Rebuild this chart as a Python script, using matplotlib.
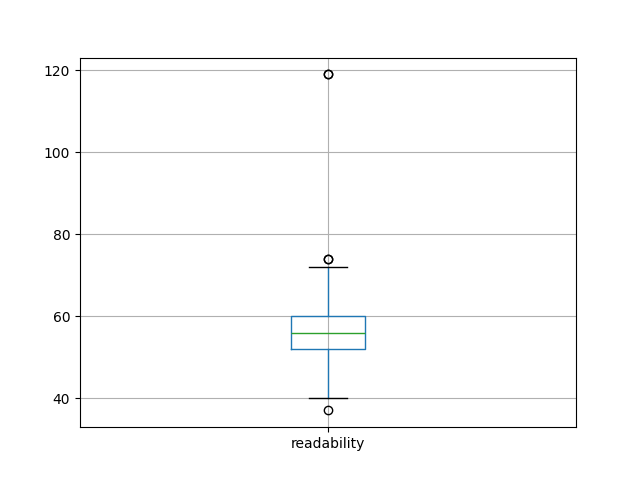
import matplotlib
matplotlib.use("Agg")
import matplotlib.pyplot as plt

# box statistics
label = "readability"
q1, median, q3 = 52, 56, 60
whislo, whishi = 40, 72
# 74 and 119 appear more than once (heavier circles)
fliers = [37, 74, 74, 119, 119]

stats = [{
    "label": label,
    "q1": q1, "med": median, "q3": q3,
    "whislo": whislo, "whishi": whishi,
    "fliers": fliers,
}]

fig, ax = plt.subplots(figsize=(6.4, 4.8), dpi=100)
ax.set_axisbelow(True)
ax.grid(True)
ax.bxp(stats,
       boxprops=dict(color="#1f77b4"),
       whiskerprops=dict(color="#1f77b4"),
       medianprops=dict(color="#2ca02c"),
       capprops=dict(color="black"),
       flierprops=dict(marker="o", markeredgecolor="black", markerfacecolor="none"))

fig.savefig("out.png")
